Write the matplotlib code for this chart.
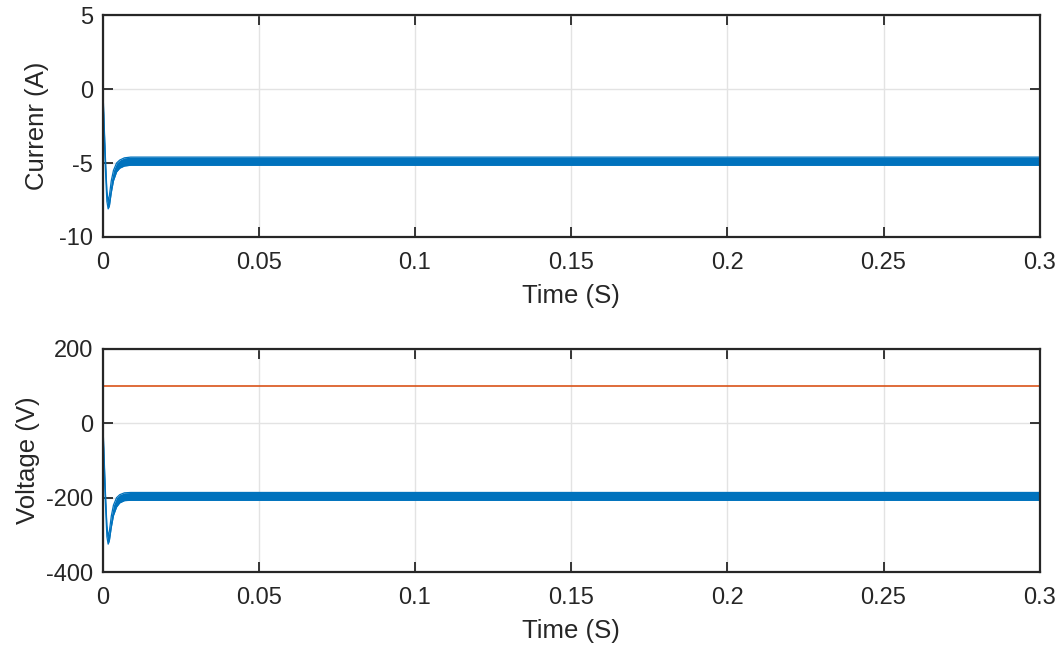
import numpy as np
import matplotlib
matplotlib.use('Agg')
import matplotlib.pyplot as plt

# dati: inviluppo (max/min) del ripple
t_env = [0, 0.0003, 0.0006, 0.0010, 0.0014, 0.0018, 0.0022, 0.0028, 0.0035, 0.0045, 0.0055, 0.0070, 0.0090, 0.3]
i_up = [0.0, -1.0, -2.8, -5.0, -6.9, -7.6, -7.2, -6.2, -5.5, -5.0, -4.8, -4.65, -4.6, -4.6]
i_lo = [-0.2, -1.6, -3.6, -5.8, -7.6, -8.1, -7.9, -7.0, -6.2, -5.6, -5.35, -5.2, -5.15, -5.15]
v_up = [0, -40, -110, -200, -275, -305, -290, -250, -220, -200, -192, -187, -186, -186]
v_lo = [-8, -65, -145, -230, -305, -325, -315, -280, -248, -225, -214, -208, -207, -207]
t_ref = [0, 0.3]
v_ref = [100, 100]

xticks = [0, 0.05, 0.1, 0.15, 0.2, 0.25, 0.3]
xticklabels = ['0', '0.05', '0.1', '0.15', '0.2', '0.25', '0.3']
i_ticks = [-10, -5, 0, 5]
v_ticks = [-400, -200, 0, 200]

blu = '#0072BD'
arancio = '#D95319'
grigio = '#262626'

plt.rcParams['font.family'] = ['Liberation Sans', 'DejaVu Sans']

fig = plt.figure(figsize=(10.59, 6.47), dpi=100)

def stile(ax, yticks):
    ax.set_xlim(0, 0.3)
    ax.set_xticks(xticks)
    ax.set_xticklabels(xticklabels)
    ax.set_yticks(yticks)
    ax.set_yticklabels([str(v) for v in yticks])
    ax.set_ylim(yticks[0], yticks[-1])
    ax.grid(True, color='#e3e3e3', lw=1)
    ax.set_axisbelow(True)
    ax.tick_params(direction='in', length=7, width=1.3, colors=grigio, labelsize=17,
                   top=True, right=True, pad=7)
    ax.tick_params(axis='x', pad=11)
    for s in ax.spines.values():
        s.set_color(grigio)
        s.set_linewidth(1.6)
    ax.set_xlabel('Time (S)', fontsize=18.5, color=grigio, labelpad=7)

# parte superiore: corrente
ax1 = fig.add_axes((0.0968, 0.6337, 0.885, 0.343))
ax1.fill_between(t_env, i_lo, i_up, color=blu, lw=0)
ax1.plot(t_env, i_up, color=blu, lw=0.9)
ax1.plot(t_env, i_lo, color=blu, lw=0.9)
stile(ax1, i_ticks)
ax1.set_ylabel('Currenr (A)', fontsize=18.5, color=grigio, labelpad=7)

# parte inferiore: tensione
ax2 = fig.add_axes((0.0968, 0.1159, 0.885, 0.3447))
ax2.fill_between(t_env, v_lo, v_up, color=blu, lw=0)
ax2.plot(t_env, v_up, color=blu, lw=0.9)
ax2.plot(t_env, v_lo, color=blu, lw=0.9)
ax2.plot(t_ref, v_ref, color=arancio, lw=1.2)
stile(ax2, v_ticks)
ax2.set_ylabel('Voltage (V)', fontsize=18.5, color=grigio, labelpad=4)

fig.savefig('out.png', dpi=100)
